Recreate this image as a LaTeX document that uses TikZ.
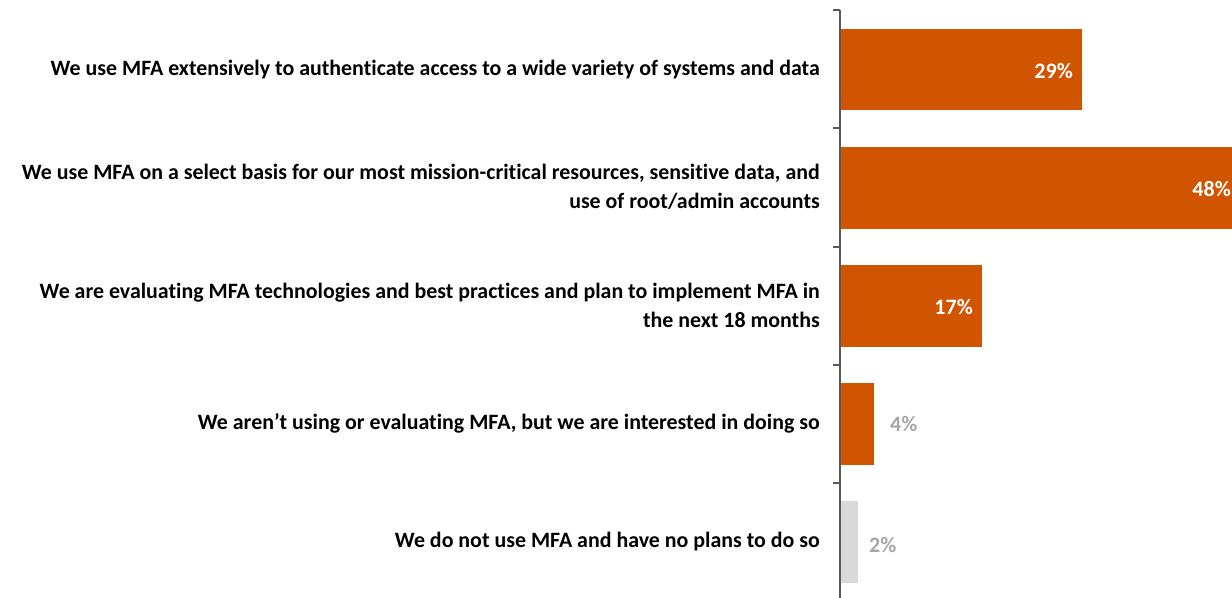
\documentclass[tikz,border=0pt]{standalone}
\usepackage{fontspec}
\setmainfont{Carlito}[Ligatures=NoCommon]
\definecolor{barorange}{HTML}{D15400}
\definecolor{bargray}{HTML}{D9D9D9}
\definecolor{lblgray}{HTML}{A6A6A6}
\definecolor{axisgray}{HTML}{595959}
\tikzset{
  cat/.style={anchor=east, align=right, font=\fontsize{21.9bp}{29bp}\selectfont\bfseries, inner sep=0pt},
  val/.style={font=\fontsize{22bp}{24bp}\selectfont\bfseries, inner sep=0pt},
  obar/.style={fill=barorange, draw=none},
  gbar/.style={fill=bargray, draw=none},
  axisline/.style={draw=axisgray, line width=1.3bp}
}
\begin{document}
\begin{tikzpicture}[x=1bp,y=-1bp]
\useasboundingbox (0,0) rectangle (1232,598);
% bars
\fill[obar] (840,29) rectangle (1082,110);
\fill[obar] (840,147) rectangle (1232,229);
\fill[obar] (840,265) rectangle (982,347);
\fill[obar] (840,383) rectangle (874,465);
\fill[gbar] (840,501) rectangle (858,583);
% axis
\draw[axisline] (840,10) -- (840,598);
\foreach \y in {10,128,247,365,483} {\draw[axisline] (833,\y) -- (840,\y);}
% categories
\node[cat] (c1) at (820,70) {We use MFA extensively to authenticate access to a wide variety of systems and data};
\node[cat] (c2) at (820,187) {We use MFA on a select basis for our most mission-critical resources, sensitive data, and\\use of root/admin accounts};
\node[cat] (c3) at (820,305) {We are evaluating MFA technologies and best practices and plan to implement MFA in\\the next 18 months};
\node[cat] (c4) at (820,423) {We aren’t using or evaluating MFA, but we are interested in doing so};
\node[cat] (c5) at (820,542) {We do not use MFA and have no plans to do so};
% values
\node[val, text=white, anchor=east] (v1) at (1073,71) {29\%};
\node[val, text=white, anchor=east] (v2) at (1231,189) {48\%};
\node[val, text=white, anchor=east] (v3) at (973,307) {17\%};
\node[val, text=lblgray, anchor=west] (v4) at (890,424) {4\%};
\node[val, text=lblgray, anchor=west] (v5) at (869,545) {2\%};
\end{tikzpicture}
\end{document}
